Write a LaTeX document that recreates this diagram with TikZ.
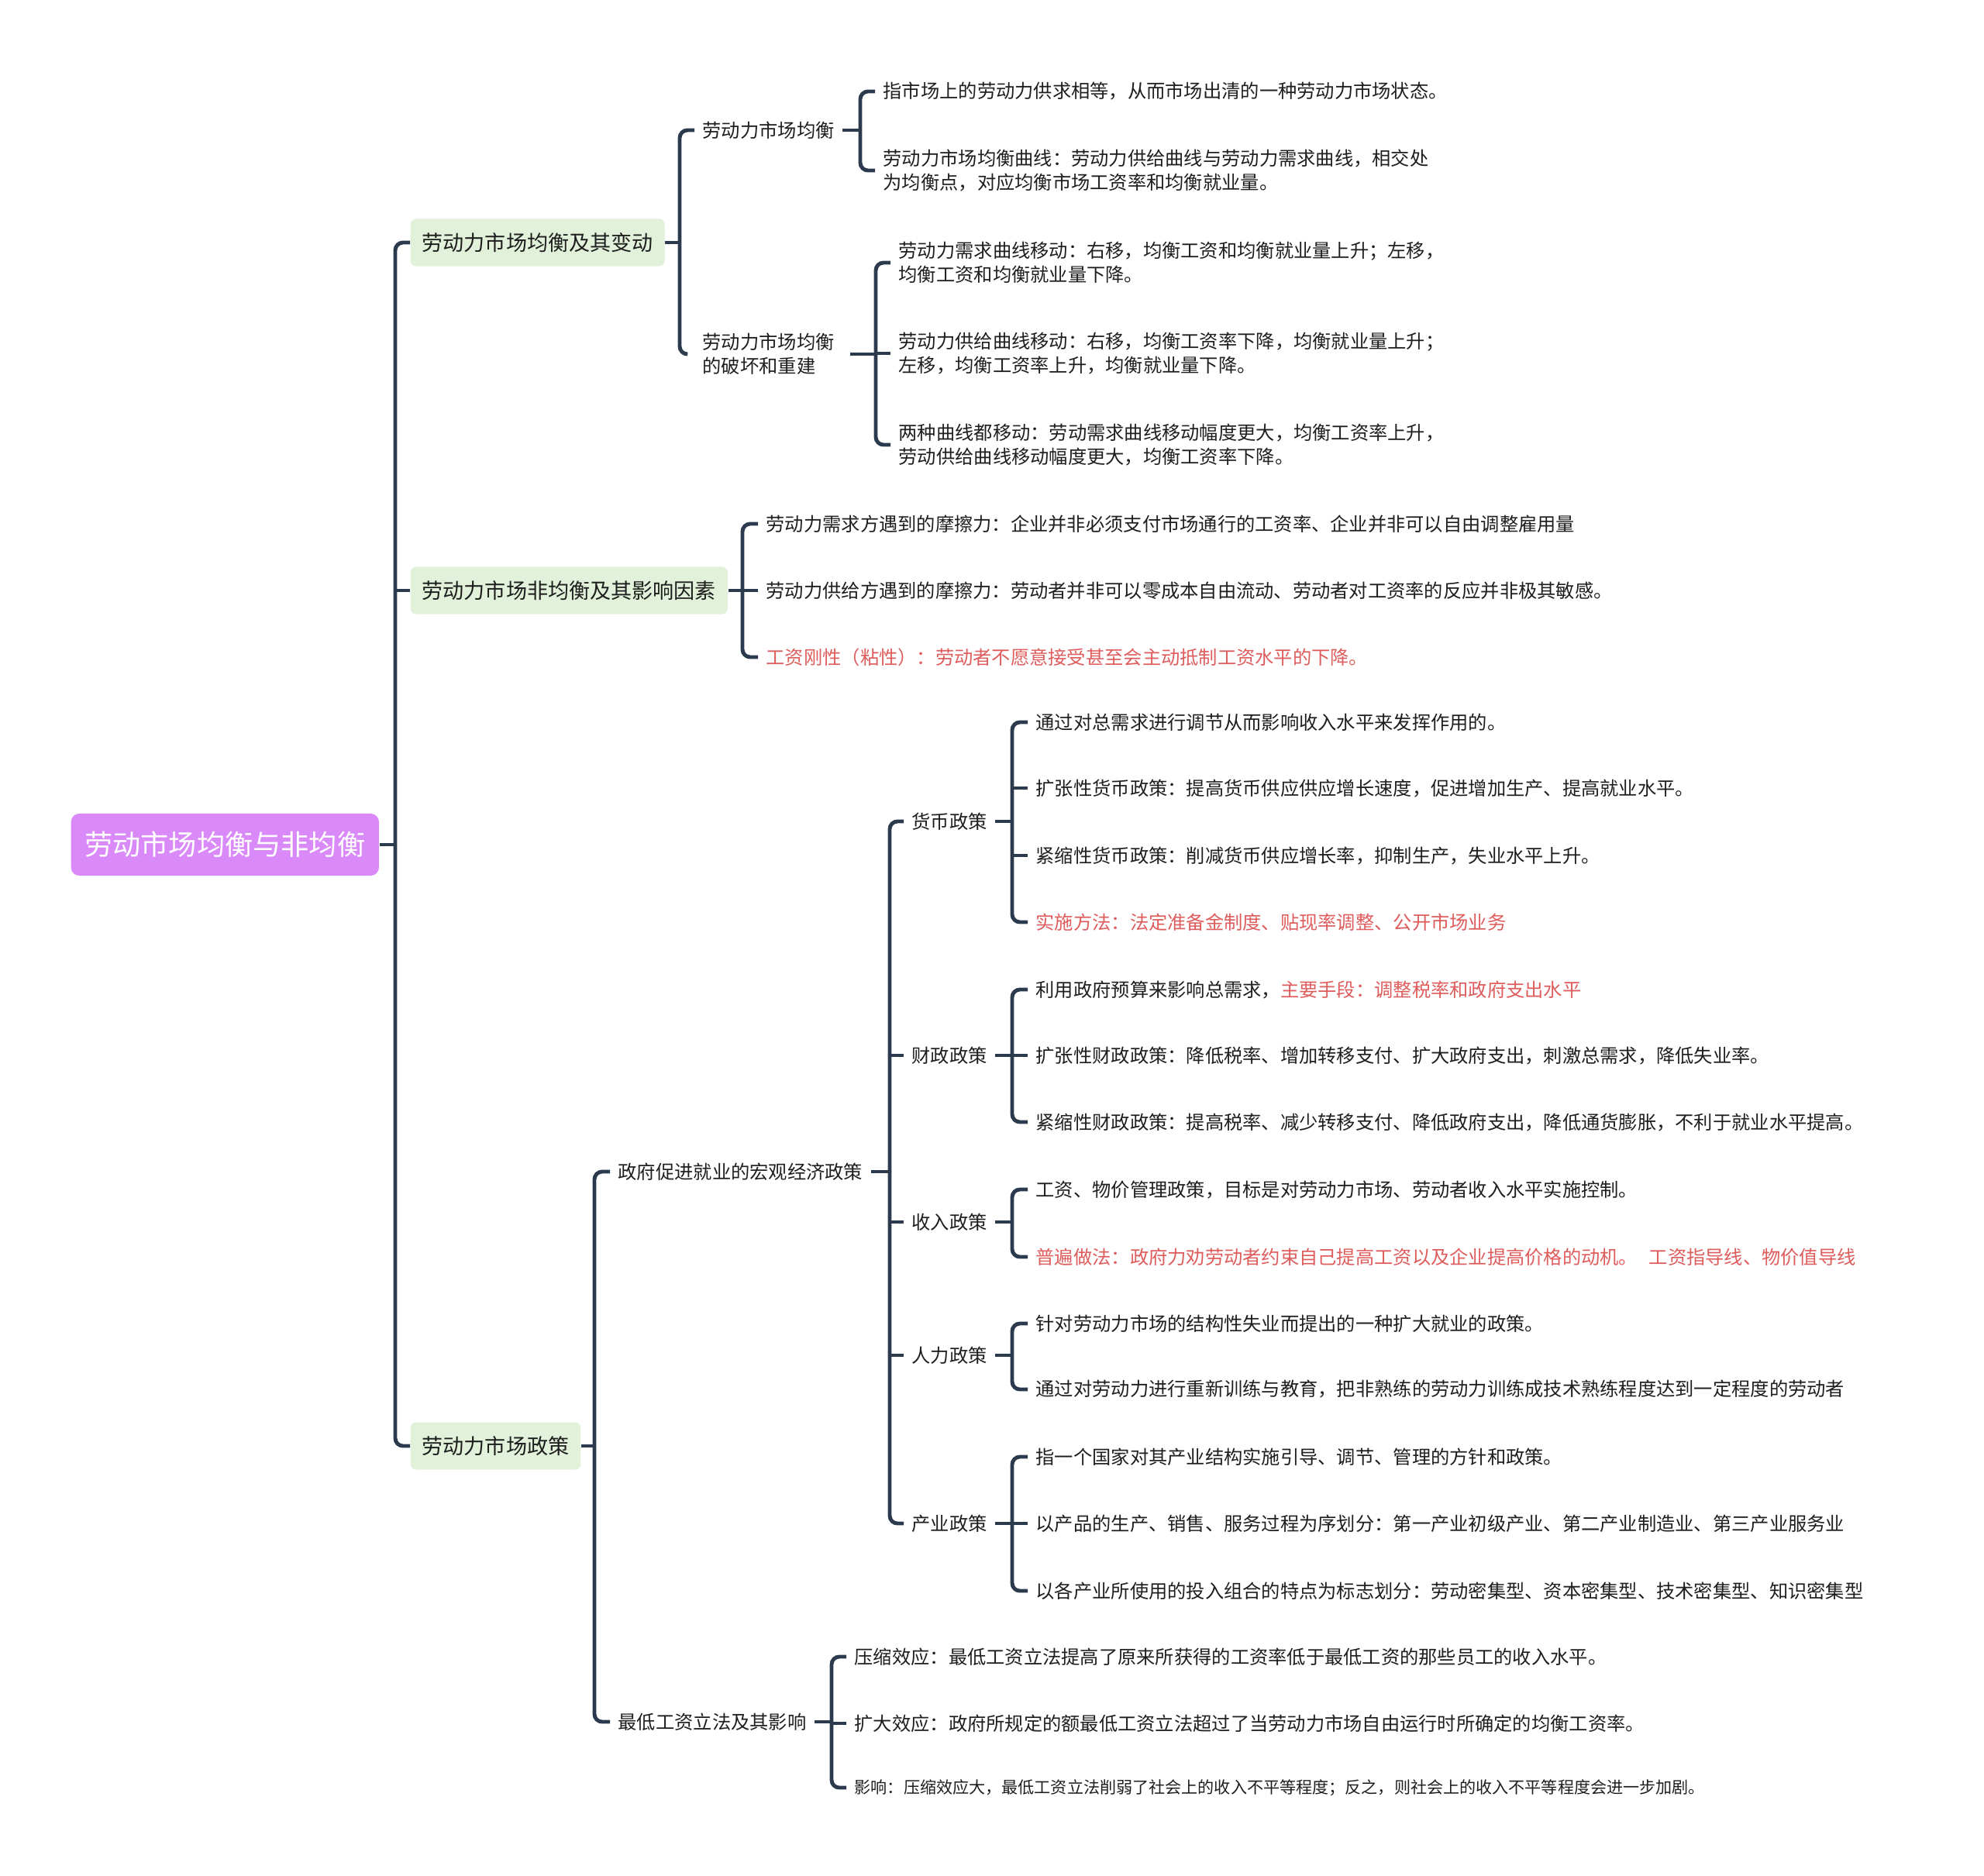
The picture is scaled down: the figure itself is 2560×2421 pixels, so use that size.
\documentclass[tikz,border=0pt]{standalone}
\usepackage{fontspec}
\setmainfont{Noto Sans CJK SC}
\usepackage{xcolor}
\usepackage{tikz}
\definecolor{rootpurple}{RGB}{218, 138, 248}
\definecolor{topicgreen}{RGB}{226, 241, 218}
\definecolor{linkslate}{RGB}{44, 58, 78}
\definecolor{notered}{RGB}{222, 92, 92}
\definecolor{leafink}{RGB}{30, 30, 30}
\tikzstyle{rootbox} = [rectangle, fill=rootpurple, text=white, anchor=west, minimum height=0.8cm, inner xsep=0.175cm, rounded corners=3pt, font=\fontsize{10.3}{12}\selectfont]
\tikzstyle{topic} = [rectangle, fill=topicgreen, text=leafink, anchor=west, minimum height=0.61cm, inner xsep=0.15cm, rounded corners=2pt, font=\fontsize{7.7}{9}\selectfont]
\tikzstyle{leaf} = [anchor=west, align=left, inner xsep=0.1cm, inner ysep=2pt, text=leafink, font=\fontsize{6.9}{8.8}\selectfont]
\tikzstyle{note} = [leaf, text=notered]
\tikzstyle{smallleaf} = [leaf, font=\fontsize{6.0}{8}\selectfont]
\tikzstyle{link} = [draw=linkslate, line width=1.4pt, rounded corners=0.1cm]

\begin{document}
\begin{tikzpicture}[x=0.01cm, y=-0.01cm]
    \useasboundingbox (0,0) rectangle (2560,2421);
    % Nodes
    \node (root) [rootbox] at (91,1090) {劳动市场均衡与非均衡};
    \node (equil) [topic] at (529,313) {劳动力市场均衡及其变动};
    \node (disequil) [topic] at (529,762) {劳动力市场非均衡及其影响因素};
    \node (policy) [topic] at (529,1866) {劳动力市场政策};

    \node (eqstate) [leaf] at (896,168) {劳动力市场均衡};
    \node (eqshift) [leaf, inner xsep=0.2cm] at (886,457) {劳动力市场均衡\\的破坏和重建};
    \node (eqdef) [leaf] at (1129,118) {指市场上的劳动力供求相等，从而市场出清的一种劳动力市场状态。};
    \node (eqcurve) [leaf] at (1129,220) {劳动力市场均衡曲线：劳动力供给曲线与劳动力需求曲线，相交处\\为均衡点，对应均衡市场工资率和均衡就业量。};
    \node (demandshift) [leaf] at (1149,339) {劳动力需求曲线移动：右移，均衡工资和均衡就业量上升；左移，\\均衡工资和均衡就业量下降。};
    \node (supplyshift) [leaf] at (1149,456) {劳动力供给曲线移动：右移，均衡工资率下降，均衡就业量上升；\\左移，均衡工资率上升，均衡就业量下降。};
    \node (bothshift) [leaf] at (1149,574) {两种曲线都移动：劳动需求曲线移动幅度更大，均衡工资率上升，\\劳动供给曲线移动幅度更大，均衡工资率下降。};

    \node (demandfric) [leaf] at (978,676) {劳动力需求方遇到的摩擦力：企业并非必须支付市场通行的工资率、企业并非可以自由调整雇用量};
    \node (supplyfric) [leaf] at (978,762) {劳动力供给方遇到的摩擦力：劳动者并非可以零成本自由流动、劳动者对工资率的反应并非极其敏感。};
    \node (rigidity) [note] at (978,848) {工资刚性（粘性）：劳动者不愿意接受甚至会主动抵制工资水平的下降。};

    \node (macro) [leaf] at (787,1512) {政府促进就业的宏观经济政策};
    \node (minwage) [leaf] at (787,2222) {最低工资立法及其影响};
    \node (monetary) [leaf] at (1166,1060) {货币政策};
    \node (fiscal) [leaf] at (1166,1362) {财政政策};
    \node (income) [leaf] at (1166,1577) {收入政策};
    \node (manpower) [leaf] at (1166,1749) {人力政策};
    \node (industry) [leaf] at (1166,1966) {产业政策};

    \node (mon1) [leaf] at (1326,932) {通过对总需求进行调节从而影响收入水平来发挥作用的。};
    \node (mon2) [leaf] at (1326,1017) {扩张性货币政策：提高货币供应供应增长速度，促进增加生产、提高就业水平。};
    \node (mon3) [leaf] at (1326,1104) {紧缩性货币政策：削减货币供应增长率，抑制生产，失业水平上升。};
    \node (mon4) [note] at (1326,1190) {实施方法：法定准备金制度、贴现率调整、公开市场业务};
    \node (fis1) [leaf] at (1326,1277) {利用政府预算来影响总需求，\textcolor{notered}{主要手段：调整税率和政府支出水平}};
    \node (fis2) [leaf] at (1326,1362) {扩张性财政政策：降低税率、增加转移支付、扩大政府支出，刺激总需求，降低失业率。};
    \node (fis3) [leaf] at (1326,1448) {紧缩性财政政策：提高税率、减少转移支付、降低政府支出，降低通货膨胀，不利于就业水平提高。};
    \node (inc1) [leaf] at (1326,1535) {工资、物价管理政策，目标是对劳动力市场、劳动者收入水平实施控制。};
    \node (inc2) [note] at (1326,1622) {普遍做法：政府力劝劳动者约束自己提高工资以及企业提高价格的动机。\hspace{0.6em}工资指导线、物价值导线};
    \node (man1) [leaf] at (1326,1708) {针对劳动力市场的结构性失业而提出的一种扩大就业的政策。};
    \node (man2) [leaf] at (1326,1793) {通过对劳动力进行重新训练与教育，把非熟练的劳动力训练成技术熟练程度达到一定程度的劳动者};
    \node (ind1) [leaf] at (1326,1880) {指一个国家对其产业结构实施引导、调节、管理的方针和政策。};
    \node (ind2) [leaf] at (1326,1966) {以产品的生产、销售、服务过程为序划分：第一产业初级产业、第二产业制造业、第三产业服务业};
    \node (ind3) [leaf] at (1326,2053) {以各产业所使用的投入组合的特点为标志划分：劳动密集型、资本密集型、技术密集型、知识密集型};

    \node (squeeze) [leaf] at (1092,2138) {压缩效应：最低工资立法提高了原来所获得的工资率低于最低工资的那些员工的收入水平。};
    \node (expand) [leaf] at (1092,2224) {扩大效应：政府所规定的额最低工资立法超过了当劳动力市场自由运行时所确定的均衡工资率。};
    \node (impact) [smallleaf] at (1092,2307) {影响：压缩效应大，最低工资立法削弱了社会上的收入不平等程度；反之，则社会上的收入不平等程度会进一步加剧。};

    % Bus points
    \coordinate (rootbus) at (510,1090);
    \coordinate (equilbus) at (877,313);
    \coordinate (eqstatebus) at (1110,168);
    \coordinate (eqshiftbus) at (1130,457);
    \coordinate (disequilbus) at (958,762);
    \coordinate (policybus) at (767,1866);
    \coordinate (macrobus) at (1148,1512);
    \coordinate (monetarybus) at (1306,1060);
    \coordinate (fiscalbus) at (1306,1362);
    \coordinate (incomebus) at (1306,1577);
    \coordinate (manpowerbus) at (1306,1749);
    \coordinate (industrybus) at (1306,1966);
    \coordinate (minwagebus) at (1073,2222);

    % Paths
    \draw [link] (root.east) -- (rootbus);
    \draw [link] (rootbus) |- (equil.west);
    \draw [link] (disequil.west -| rootbus) -- (disequil.west);
    \draw [link] (rootbus) |- (policy.west);

    \draw [link] (equil.east) -- (equilbus);
    \draw [link] (equilbus) |- (eqstate.west);
    \draw [link] (equilbus) |- (eqshift.west);
    \draw [link] (eqstate.east) -- (eqstatebus);
    \draw [link] (eqstatebus) |- (eqdef.west);
    \draw [link] (eqstatebus) |- (eqcurve.west);
    \draw [link] (eqshift.east) -- (eqshiftbus);
    \draw [link] (eqshiftbus) |- (demandshift.west);
    \draw [link] (supplyshift.west -| eqshiftbus) -- (supplyshift.west);
    \draw [link] (eqshiftbus) |- (bothshift.west);

    \draw [link] (disequil.east) -- (disequilbus);
    \draw [link] (disequilbus) |- (demandfric.west);
    \draw [link] (supplyfric.west -| disequilbus) -- (supplyfric.west);
    \draw [link] (disequilbus) |- (rigidity.west);

    \draw [link] (policy.east) -- (policybus);
    \draw [link] (policybus) |- (macro.west);
    \draw [link] (policybus) |- (minwage.west);

    \draw [link] (macro.east) -- (macrobus);
    \draw [link] (macrobus) |- (monetary.west);
    \draw [link] (fiscal.west -| macrobus) -- (fiscal.west);
    \draw [link] (income.west -| macrobus) -- (income.west);
    \draw [link] (manpower.west -| macrobus) -- (manpower.west);
    \draw [link] (macrobus) |- (industry.west);

    \draw [link] (monetary.east) -- (monetarybus);
    \draw [link] (monetarybus) |- (mon1.west);
    \draw [link] (mon2.west -| monetarybus) -- (mon2.west);
    \draw [link] (mon3.west -| monetarybus) -- (mon3.west);
    \draw [link] (monetarybus) |- (mon4.west);

    \draw [link] (fiscal.east) -- (fiscalbus);
    \draw [link] (fiscalbus) |- (fis1.west);
    \draw [link] (fis2.west -| fiscalbus) -- (fis2.west);
    \draw [link] (fiscalbus) |- (fis3.west);

    \draw [link] (income.east) -- (incomebus);
    \draw [link] (incomebus) |- (inc1.west);
    \draw [link] (incomebus) |- (inc2.west);

    \draw [link] (manpower.east) -- (manpowerbus);
    \draw [link] (manpowerbus) |- (man1.west);
    \draw [link] (manpowerbus) |- (man2.west);

    \draw [link] (industry.east) -- (industrybus);
    \draw [link] (industrybus) |- (ind1.west);
    \draw [link] (ind2.west -| industrybus) -- (ind2.west);
    \draw [link] (industrybus) |- (ind3.west);

    \draw [link] (minwage.east) -- (minwagebus);
    \draw [link] (minwagebus) |- (squeeze.west);
    \draw [link] (expand.west -| minwagebus) -- (expand.west);
    \draw [link] (minwagebus) |- (impact.west);
\end{tikzpicture}
\end{document}
